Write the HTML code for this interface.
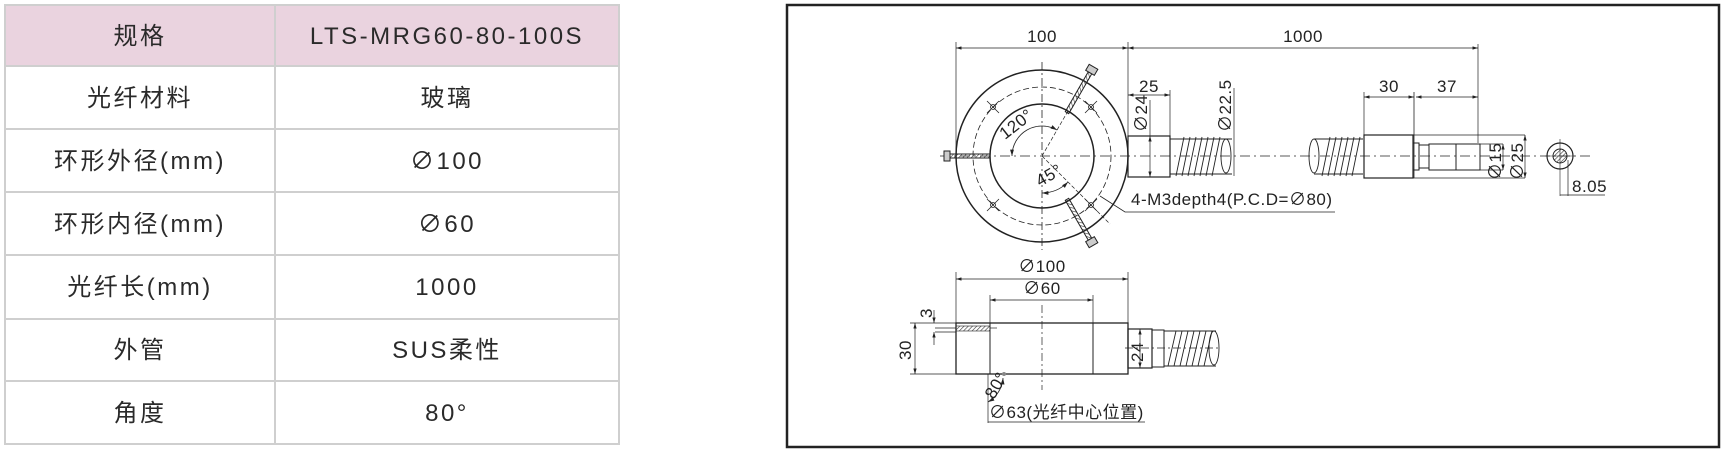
<!DOCTYPE html>
<html><head><meta charset="utf-8"><style>
html,body{margin:0;padding:0;background:#fff;width:1724px;height:453px;overflow:hidden}
svg{position:absolute;left:0;top:0}
.t{font-family:"Liberation Sans","Noto Sans CJK SC",sans-serif;fill:#2a2a2a}
.d{font-family:"Liberation Sans","Noto Sans CJK SC",sans-serif;fill:#222;font-size:17px;letter-spacing:0.5px}
</style></head><body>
<svg width="1724" height="453" viewBox="0 0 1724 453" xmlns="http://www.w3.org/2000/svg">
<defs>
<marker id="a" viewBox="0 0 10 6" refX="10" refY="3" markerWidth="8" markerHeight="5" orient="auto-start-reverse"><path d="M0,0L10,3L0,6z" fill="#222"/></marker>
<pattern id="h" width="3" height="3" patternUnits="userSpaceOnUse" patternTransform="rotate(45)"><line x1="0" y1="0" x2="0" y2="3" stroke="#333" stroke-width="1.2"/></pattern>
</defs>
<!-- table -->
<rect x="5" y="5" width="614" height="61" fill="#ead3df"/>
<g stroke="#cfcfcf" stroke-width="2" fill="none">
<rect x="5" y="5" width="614" height="439"/>
<line x1="275" y1="5" x2="275" y2="444"/>
<line x1="5" y1="66" x2="619" y2="66"/><line x1="5" y1="129" x2="619" y2="129"/>
<line x1="5" y1="192" x2="619" y2="192"/><line x1="5" y1="255" x2="619" y2="255"/>
<line x1="5" y1="319" x2="619" y2="319"/><line x1="5" y1="381" x2="619" y2="381"/>
</g>
<g class="t" font-size="24" text-anchor="middle" letter-spacing="2.5">
<text x="140" y="44">规格</text><text x="447" y="44">LTS-MRG60-80-100S</text>
<text x="140" y="106">光纤材料</text><text x="447" y="106">玻璃</text>
<text x="140" y="169">环形外径(mm)</text><text x="447" y="169">∅100</text>
<text x="140" y="232">环形内径(mm)</text><text x="447" y="232">∅60</text>
<text x="140" y="295">光纤长(mm)</text><text x="447" y="295">1000</text>
<text x="140" y="358">外管</text><text x="447" y="358">SUS柔性</text>
<text x="140" y="421">角度</text><text x="447" y="421">80°</text>
</g>
<!-- drawing frame -->
<rect x="787" y="5" width="932" height="442" fill="none" stroke="#222" stroke-width="2.5"/>
<g stroke="#222" fill="none" stroke-width="1">
<line x1="1042" y1="62" x2="1042" y2="250" stroke-dasharray="8,3,2,3" stroke-width="0.8"/>
<line x1="940" y1="156" x2="1590" y2="156" stroke-dasharray="10,4,2,4" stroke-width="0.8"/>
<circle cx="1042" cy="156" r="86" stroke-width="1.5"/>
<circle cx="1042" cy="156" r="52" stroke-width="1.5"/>
<circle cx="1042" cy="156" r="69" stroke-dasharray="6,3" stroke-width="0.8"/>
<g stroke-width="0.8">
<circle cx="993" cy="107" r="2.5"/><circle cx="1091" cy="107" r="2.5"/><circle cx="993" cy="205" r="2.5"/><circle cx="1091" cy="205" r="2.5"/>
<line x1="987" y1="101" x2="999" y2="113"/><line x1="999" y1="101" x2="987" y2="113"/>
<line x1="1085" y1="101" x2="1097" y2="113"/><line x1="1097" y1="101" x2="1085" y2="113"/>
<line x1="987" y1="199" x2="999" y2="211"/><line x1="999" y1="199" x2="987" y2="211"/>
<line x1="1085" y1="199" x2="1097" y2="211"/><line x1="1097" y1="199" x2="1085" y2="211"/>
</g>
<rect x="950" y="154" width="40" height="4" fill="url(#h)"/>
<rect x="944" y="151" width="6" height="10" fill="#ccc"/>
<g transform="translate(1042,156) rotate(-60)"><rect x="50" y="-2" width="46" height="4" fill="url(#h)"/><rect x="96" y="-5" width="7" height="10" fill="#ccc"/></g>
<g transform="translate(1042,156) rotate(60)"><rect x="50" y="-2" width="46" height="4" fill="url(#h)"/><rect x="96" y="-5" width="7" height="10" fill="#ccc"/></g>
<line x1="1042" y1="156" x2="1068" y2="111" stroke-dasharray="4,2" stroke-width="0.7"/>
<line x1="1042" y1="156" x2="1110" y2="224" stroke-dasharray="4,2" stroke-width="0.7"/>
<path d="M1012,156 A30,30 0 0 1 1057,130" stroke-width="0.8" marker-start="url(#a)" marker-end="url(#a)"/>
<path d="M1042,193 A37,37 0 0 0 1068,182" stroke-width="0.8" marker-start="url(#a)" marker-end="url(#a)"/>
<polyline points="1100,196 1125,212 1335,212" stroke-width="0.8"/>
<line x1="956" y1="42" x2="956" y2="156" stroke-width="0.7"/>
<line x1="1128" y1="42" x2="1128" y2="136" stroke-width="0.7"/>
<line x1="956" y1="48" x2="1128" y2="48" stroke-width="0.7" marker-start="url(#a)" marker-end="url(#a)"/>
<line x1="1128" y1="48" x2="1478" y2="48" stroke-width="0.7" marker-start="url(#a)" marker-end="url(#a)"/>
<line x1="1478" y1="44" x2="1478" y2="143" stroke-width="0.7"/>
<rect x="1128" y="136" width="42" height="41" stroke-width="1.2"/>
<line x1="1128" y1="95" x2="1170" y2="95" stroke-width="0.7" marker-start="url(#a)" marker-end="url(#a)"/>
<line x1="1170" y1="90" x2="1170" y2="136" stroke-width="0.7"/>
<line x1="1150" y1="136" x2="1150" y2="177" stroke-width="0.7" marker-start="url(#a)" marker-end="url(#a)"/>
<line x1="1150" y1="100" x2="1150" y2="136" stroke-width="0.7"/>
<path d="M1170,139 L1232,139 M1170,174 L1232,174" stroke-width="1"/>
<path d="M1176,176 L1184,137 M1188,176 L1196,137 M1200,176 L1208,137 M1212,176 L1220,137 M1182,176 L1190,137 M1194,176 L1202,137 M1206,176 L1214,137" stroke-width="0.9"/>
<ellipse cx="1226" cy="156" rx="5" ry="17" stroke-width="0.9"/>
<line x1="1234" y1="88" x2="1234" y2="176" stroke-width="0.7"/>
<ellipse cx="1314" cy="156" rx="5" ry="17" stroke-width="0.9"/>
<path d="M1314,139 L1363,139 M1314,174 L1363,174" stroke-width="1"/>
<path d="M1322,176 L1330,137 M1334,176 L1342,137 M1346,176 L1354,137 M1328,176 L1336,137 M1340,176 L1348,137 M1352,176 L1360,137" stroke-width="0.9"/>
<rect x="1364" y="135" width="49" height="43" stroke-width="1.2"/>
<rect x="1413" y="143" width="6" height="27" stroke-width="1"/>
<rect x="1419" y="145" width="10" height="23" stroke-width="1"/>
<rect x="1429" y="144" width="27" height="26" stroke-width="1"/>
<rect x="1456" y="144" width="24" height="26" stroke-width="1"/>
<line x1="1413" y1="178" x2="1525" y2="178" stroke-width="0.7"/>
<line x1="1413" y1="135" x2="1525" y2="135" stroke-width="0.7"/>
<line x1="1364" y1="92" x2="1364" y2="135" stroke-width="0.7"/>
<line x1="1414" y1="92" x2="1414" y2="178" stroke-width="0.8"/>
<line x1="1364" y1="97" x2="1414" y2="97" stroke-width="0.7" marker-start="url(#a)" marker-end="url(#a)"/>
<line x1="1416" y1="97" x2="1478" y2="97" stroke-width="0.7" marker-start="url(#a)" marker-end="url(#a)"/>
<line x1="1503" y1="144" x2="1503" y2="170" stroke-width="0.7" marker-start="url(#a)" marker-end="url(#a)"/>
<line x1="1480" y1="144" x2="1503" y2="144" stroke-width="0.7"/><line x1="1480" y1="170" x2="1503" y2="170" stroke-width="0.7"/>
<line x1="1525" y1="135" x2="1525" y2="178" stroke-width="0.7" marker-start="url(#a)" marker-end="url(#a)"/>
<circle cx="1560" cy="156" r="13" stroke-width="1.2"/>
<circle cx="1560" cy="156" r="7" fill="url(#h)" stroke-width="1"/>
<line x1="1560" y1="139" x2="1560" y2="196" stroke-width="0.6"/>
<line x1="1545" y1="156" x2="1575" y2="156" stroke-width="0.6"/>
<line x1="1568" y1="160" x2="1568" y2="196" stroke-width="0.7"/>
<line x1="1560" y1="195" x2="1605" y2="195" stroke-width="0.7"/>
<rect x="956" y="323" width="172" height="51" stroke-width="1.3"/>
<line x1="990" y1="323" x2="990" y2="374" stroke-width="1"/>
<line x1="1093" y1="323" x2="1093" y2="374" stroke-width="1"/>
<rect x="956" y="326" width="34" height="5" fill="url(#h)" stroke-width="0.6"/>
<line x1="990" y1="328" x2="997" y2="328" stroke-width="0.7"/>
<line x1="1042" y1="305" x2="1042" y2="390" stroke-dasharray="8,3,2,3" stroke-width="0.7"/>
<line x1="956" y1="272" x2="956" y2="323" stroke-width="0.7"/>
<line x1="1128" y1="272" x2="1128" y2="323" stroke-width="0.7"/>
<line x1="956" y1="279" x2="1128" y2="279" stroke-width="0.7" marker-start="url(#a)" marker-end="url(#a)"/>
<line x1="990" y1="295" x2="990" y2="323" stroke-width="0.7"/>
<line x1="1093" y1="295" x2="1093" y2="323" stroke-width="0.7"/>
<line x1="990" y1="300" x2="1093" y2="300" stroke-width="0.7" marker-start="url(#a)" marker-end="url(#a)"/>
<line x1="910" y1="323" x2="956" y2="323" stroke-width="0.7"/>
<line x1="910" y1="374" x2="956" y2="374" stroke-width="0.7"/>
<line x1="915" y1="323" x2="915" y2="374" stroke-width="0.7" marker-start="url(#a)" marker-end="url(#a)"/>
<line x1="935" y1="328" x2="956" y2="328" stroke-width="0.7"/>
<line x1="935" y1="332" x2="956" y2="332" stroke-width="0.7"/>
<line x1="934" y1="310" x2="934" y2="323" stroke-width="0.7" marker-end="url(#a)"/>
<line x1="934" y1="345" x2="934" y2="332" stroke-width="0.7" marker-end="url(#a)"/>
<rect x="1128" y="329" width="24" height="39" stroke-width="1.2"/>
<line x1="1140" y1="329" x2="1140" y2="368" stroke-width="0.7" marker-start="url(#a)" marker-end="url(#a)"/>
<line x1="1125" y1="348" x2="1220" y2="348" stroke-dasharray="8,3,2,3" stroke-width="0.7"/>
<rect x="1152" y="330" width="12" height="37" stroke-width="1"/>
<path d="M1164,331 L1216,331 M1164,366 L1216,366" stroke-width="1"/>
<path d="M1168,366 L1176,331 M1180,366 L1188,331 M1192,366 L1200,331 M1204,366 L1212,331 M1174,366 L1182,331 M1186,366 L1194,331 M1198,366 L1206,331" stroke-width="0.9"/>
<ellipse cx="1214" cy="348" rx="5" ry="17" stroke-width="0.9"/>
<line x1="988" y1="374" x2="988" y2="423" stroke-width="0.7"/>
<path d="M1003,378 A30,30 0 0 1 988,402" stroke-width="0.8" marker-start="url(#a)" marker-end="url(#a)"/>
<circle cx="1004" cy="374" r="2" fill="#888" stroke="none"/>
<line x1="988" y1="422" x2="1145" y2="422" stroke-width="0.8"/>
</g>
<g class="d">
<text x="1042" y="42" text-anchor="middle">100</text>
<text x="1303" y="42" text-anchor="middle">1000</text>
<text x="1149" y="92" text-anchor="middle">25</text>
<text x="1389" y="92" text-anchor="middle">30</text>
<text x="1447" y="92" text-anchor="middle">37</text>
<text x="1572" y="192">8.05</text>
<text x="1131" y="205">4-M3depth4(P.C.D=∅80)</text>
<text transform="translate(1147,132) rotate(-90)">∅24</text>
<text transform="translate(1231,132) rotate(-90)">∅22.5</text>
<text transform="translate(1501,180) rotate(-90)">∅15</text>
<text transform="translate(1523,180) rotate(-90)">∅25</text>
<text transform="translate(1005,140) rotate(-38)">120°</text>
<text transform="translate(1040,187) rotate(-30)">45°</text>
<text x="1042" y="272" text-anchor="middle">∅100</text>
<text x="1042" y="294" text-anchor="middle">∅60</text>
<text transform="translate(911,360) rotate(-90)">30</text>
<text transform="translate(932,318) rotate(-90)">3</text>
<text transform="translate(1143,362) rotate(-90)">24</text>
<text transform="translate(994,400) rotate(-60)">80°</text>
<text x="989" y="418">∅63(光纤中心位置)</text>
</g>
</svg>
</body></html>
